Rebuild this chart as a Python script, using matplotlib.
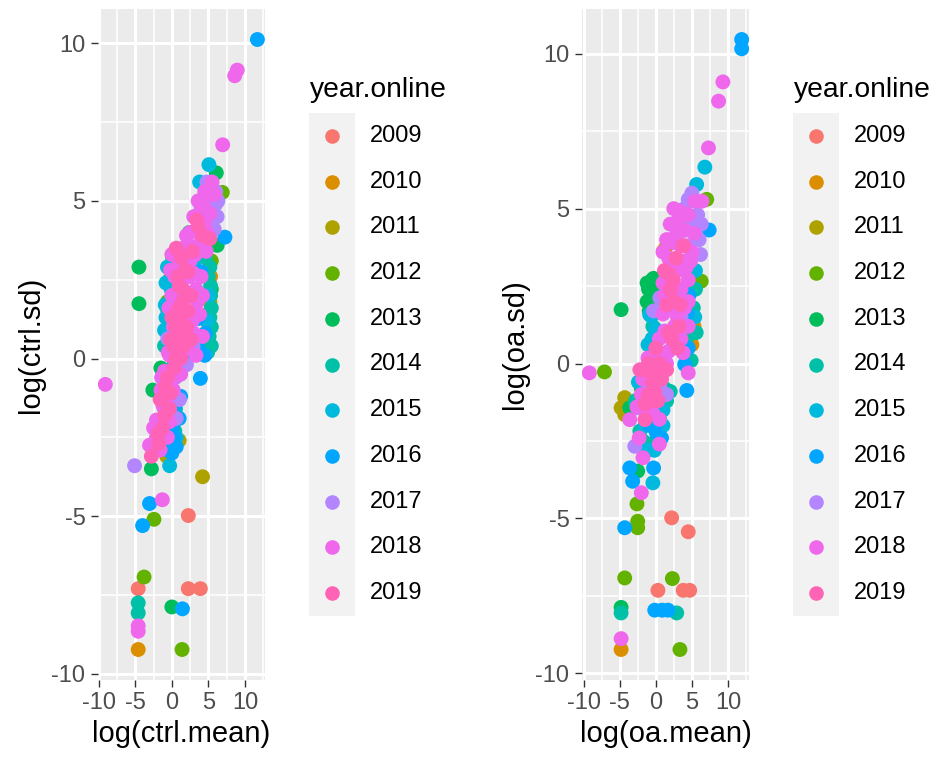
import matplotlib
matplotlib.use("Agg")
import matplotlib.pyplot as plt
from matplotlib.patches import Rectangle

plt.rcParams['font.family'] = ['Liberation Sans', 'DejaVu Sans']
plt.rcParams['axes.unicode_minus'] = False

years = [2009, 2010, 2011, 2012, 2013, 2014, 2015, 2016, 2017, 2018, 2019]
year_colors = ["#F8766D", "#DB8E00", "#AEA200", "#64B200", "#00BD5C", "#00C1A7",
               "#00BADE", "#00A6FF", "#B385FF", "#EF67EB", "#FF63B6"]

# ---- control group: log(mean) / log(sd) by year ----
ctrl_mean_2009 = [2.25, -4.6, 2.25, 3.9, 4.9, 5.0]
ctrl_sd_2009 = [-4.98, -7.3, -7.3, -7.3, 0.63, 1.1]
ctrl_mean_2010 = [-4.6, 4.8, 5.3]
ctrl_sd_2010 = [-9.23, 1.4, 2.6]
ctrl_mean_2011 = [-0.7, 4.2, 5.2, 1.0]
ctrl_sd_2011 = [-3.1, -3.75, 1.8, -2.6]
ctrl_mean_2012 = [-2.45, -3.8, 1.4, 6.9, 5.4, -0.6]
ctrl_sd_2012 = [-5.1, -6.93, -9.23, 5.27, 3.1, 1.8]
ctrl_mean_2013 = [-4.5, -4.5, 0.0, 6.08, 6.2, -2.8, -2.6, 2.4, -0.55, -0.3, 0.1, 5.4, -1.5, 0.0, 5.3]
ctrl_sd_2013 = [2.9, 1.74, -7.88, 5.89, 3.59, -3.5, -1.0, 4.0, 1.53, 2.5, 3.2, 2.2, -0.3, -2.0, 1.0]
ctrl_mean_2014 = [-4.6, -4.6, -0.3, 5.4, 5.4, 5.4, 5.3, 5.2, 4.9, -0.8, 0.5, 0.3, -0.5, 0.4, 1.0,
                  5.1, 5.2, 5.3, 5.0, 4.6, -1.0]
ctrl_sd_2014 = [-7.75, -8.07, -2.85, 0.4, 1.0, 1.6, 2.3, 2.9, 0.2, -1.0, -1.6, -0.2, 1.0, -2.3, 2.4,
                0.7, 1.3, 2.0, 2.6, 3.2, 0.4]
ctrl_mean_2015 = [5.07, 3.8, -0.3, -1.0, -0.8, -0.1, 0.4, 0.2, 1.0, 0.5, 3.0, -0.5, 1.0, -1.0, 0.6, 4.6,
                  -0.8, -0.6, 5.0, 4.8, -0.9, 0.0]
ctrl_sd_2015 = [6.15, 5.6, -3.4, 0.9, 1.3, 2.2, 3.0, 2.6, 2.1, 1.8, 3.0, -0.5, -0.2, -1.6, -2.5, 5.3,
                2.4, 2.9, 2.0, 1.2, 1.7, -1.4]
ctrl_mean_2016 = [11.7, 7.26, 3.9, -3.05, -4.0, 1.45, 0.1, -0.3, 4.0, 3.6, 3.6, 1.0, 0.6, 4.5, 2.0, 1.2,
                  -1.4, 0.0, 0.4, -0.6, 0.3, 4.6, -0.9]
ctrl_sd_2016 = [10.12, 3.85, -0.63, -4.6, -5.3, -7.94, -2.2, -2.6, 2.75, 1.27, 0.32, -1.9, -2.8, 0.1, 0.0, -1.2,
                -2.2, -3.0, -1.5, -2.9, -2.5, 0.8, -1.2]
ctrl_mean_2017 = [-5.1, 1.05, 5.2, 4.6, 5.6, 6.2, 5.0, 6.3, 4.0, 5.8, -0.55, 2.9, 0.5, -0.8, 6.0, 4.4, 2.0,
                  5.0, 5.5, 6.0, 4.8, 5.3, -0.3, 0.6]
ctrl_sd_2017 = [-3.4, -1.3, 5.5, 5.1, 4.8, 4.5, 4.3, 5.0, 4.8, 4.1, 0.63, 0.38, -0.6, -1.8, 5.3, 4.5, -0.2,
                4.9, 5.2, 4.9, 5.6, 4.5, -1.4, -1.9]
ctrl_mean_2018 = [-9.1, 8.95, 8.6, 6.95, -1.3, -4.6, -4.6, 5.8, 3.0, 3.8, 4.5, 5.2, 1.5, 2.3, 3.2, 4.0,
                  4.7, 0.0, 1.0, 2.0, 3.3, 4.2, 0.4, 2.4, 1.8, 0.6, 3.5, 2.8, -0.3, 0.1, -0.7, -2.1,
                  -2.1, -3.05, -1.0, 0.8, 3.3, -1.5, 0.2, 4.3,
                  0.0, -0.4, 0.2, 1.2, 2.2, 3.0, 3.8, 4.2, 4.0, 3.0, 2.5, -0.2, -0.5, -1.4, -1.2,
                  -0.3, -2.5, -1.6, -0.6, 2.5, 3.5, 4.8, 3.6, 4.5, 5.5, 2.0, 1.2]
ctrl_sd_2018 = [-0.82, 9.15, 8.97, 6.78, -4.48, -8.48, -8.65, 5.2, 4.5, 4.6, 4.3, 4.6, 3.5, 3.6, 3.3, 3.7,
                3.4, 3.3, 3.0, 3.4, 2.2, 0.7, 2.6, 2.6, 2.0, 1.4, 1.8, 1.2, 0.1, -0.63, -1.37, -1.95,
                -2.5, -2.75, -0.4, 0.5, 0.1, -1.0, -1.0, 4.9,
                2.0, 1.6, 1.0, 0.2, 0.3, 0.8, 1.4, 2.0, 2.6, 2.7, 3.1, 2.8, 0.2, -0.6, -1.5,
                -2.0, -2.2, -2.9, -2.5, 4.0, 4.1, 4.0, 5.0, 5.3, 5.6, 3.9, -0.5]
ctrl_mean_2019 = [4.2, 5.2, 2.2, 1.5, 1.2, 0.8, 1.6, 2.2, 0.5, 2.0, 1.0, 1.8, -1.3, -2.8, -1.6, -0.6,
                  -0.3, 0.3, 2.6, 0.6, -1.8, 3.6, 1.2, -0.2,
                  0.5, 1.0, 1.5, 0.8, 1.3, 2.6, 1.9, 0.2, -0.9, -0.2, -1.9, -1.0, 2.8, 3.4, 0.0]
ctrl_sd_2019 = [3.9, 3.8, 2.75, 1.8, 1.2, 0.8, 0.4, 1.5, 0.0, 1.0, 2.3, 2.8, -2.2, -3.1, -1.3, -0.6,
                -1.6, -0.3, 0.6, 3.5, -2.7, 4.2, 0.0, 0.6,
                1.0, 1.6, 2.2, 2.6, 3.2, 2.0, 0.7, 0.4, -0.9, -1.1, -2.4, -1.8, 3.4, 4.4, 1.3]

# ---- open-access group: log(mean) / log(sd) by year ----
oa_mean_2009 = [2.2, 4.5, 0.3, 3.8, 4.7]
oa_sd_2009 = [-4.98, -5.43, -7.32, -7.32, -7.32]
oa_mean_2010 = [-4.8, 1.06, 5.0, 5.3, 1.5]
oa_sd_2010 = [-9.23, 3.63, 0.61, 1.2, 3.8]
oa_mean_2011 = [-4.3, -4.8, -4.3, -4.0]
oa_sd_2011 = [-1.1, -1.43, -1.65, -1.3]
oa_mean_2012 = [-7.1, -2.6, -2.5, -2.5, -4.3, 2.3, 3.35, 5.8, 6.3, 7.06]
oa_sd_2012 = [-0.27, -4.53, -5.09, -5.3, -6.92, -6.94, -9.23, 2.7, 2.66, 5.3]
oa_mean_2013 = [-4.8, -1.0, -0.5, 0.2, -1.2, -0.6, 0.3, -3.6, -2.5, -4.8, -1.5, -0.3, -1.2, -0.9, -2.0]
oa_sd_2013 = [1.74, 2.4, 2.7, 2.5, 2.0, 1.9, 2.2, -1.43, -3.47, -7.87, -0.3, 2.75, 2.6, 1.7, -0.8]
oa_mean_2014 = [-4.8, 2.9, 1.5, 0.55, -2.2, -1.77, -0.84, 4.3, 5.2, 5.5, 5.0, -0.4, 2.0,
                1.2, 0.2, 5.6, 4.9, -2.8]
oa_sd_2014 = [-8.05, -8.05, -1.21, -1.81, -2.18, -2.5, -2.6, 0.83, 1.8, 2.4, 3.0, 1.2, -0.9,
              -0.8, -1.8, 1.0, 0.1, -1.2]
oa_mean_2015 = [6.8, 5.66, -0.84, -0.6, -0.4, -0.5, 0.0, -1.5, -1.0, 1.0, -2.4, 4.8, -1.07,
                -0.4, -0.8, 1.0, -0.2, -1.2, 5.4, 5.5]
oa_sd_2015 = [6.34, 5.78, 1.58, 1.53, -3.85, 0.8, 1.1, -2.0, -1.5, -1.5, -0.6, 4.5, 0.61,
              0.2, -1.0, -2.0, -2.8, -2.8, 1.5, 3.0]
oa_mean_2016 = [11.9, 11.9, 7.4, 3.6, 4.0, 4.3, 0.1, -3.6, -0.3, -3.2, -4.3, -0.14, 0.9, 1.7, 4.3, 0.5,
                0.8, -0.8, 4.5, 4.6]
oa_sd_2016 = [10.46, 10.16, 4.31, 2.4, -0.03, -0.87, -2.24, -3.37, -3.37, -3.8, -5.3, -7.96, -7.96, -7.96, 1.6, -1.0,
              -2.4, -2.0, 0.5, 2.2]
oa_mean_2017 = [5.0, 3.8, 4.5, 5.8, 6.3, 4.2, 5.5, 6.2, 0.56, -2.5, -2.9, 0.55, 3.5, -0.3,
                4.0, 5.5, 6.0, 2.5, -1.0, 1.2, 4.5, 1.5]
oa_sd_2017 = [5.5, 4.97, 5.3, 4.8, 4.5, 4.4, 4.2, 3.52, 2.12, -1.43, -2.67, -0.73, 1.5, 1.7,
              5.0, 4.6, 4.0, 2.0, -0.8, -0.2, 3.8, -1.0]
oa_mean_2018 = [-9.2, 9.3, 8.7, 7.3, 5.4, 6.4, 2.0, 3.0, 4.0, 1.5, 2.5, 3.5, 5.0, 2.0, 3.0, 4.2,
                1.5, 2.4, 3.5, 4.5, 1.2, 2.0, 3.0, 4.5, 1.25, 2.5, 3.8, -1.07, 0.5, -0.5, -2.0,
                -3.6, -1.77, -2.0, -4.8, 0.5, 4.5, 1.5,
                1.0, 2.0, 3.0, 4.0, 1.8, 3.8, 4.5, 1.0, 3.0, 4.0, 1.0, 2.6, 3.5, 0.5, 1.8, 0.0,
                -1.8, -1.2, -2.6, -0.4, -2.3, 0.5, 2.5, 3.5, 4.5, 5.3, 4.8]
oa_sd_2018 = [-0.3, 9.09, 8.47, 6.96, 5.24, 5.24, 4.5, 4.6, 4.3, 4.0, 3.9, 3.8, 3.6, 3.3, 3.0, 3.1,
              2.8, 2.7, 2.4, 2.0, 2.2, 1.8, 1.5, 1.2, 1.05, 0.6, 0.35, 0.18, 0.2, -0.3, -1.0,
              -1.81, -3.04, -4.17, -8.88, -1.8, -0.3, 0.0,
              3.6, 4.0, 4.2, 3.8, 3.4, 3.3, 2.7, 2.6, 2.2, 1.8, 1.6, 1.2, 0.8, 0.8, 0.4, -0.1,
              -0.5, -1.5, -1.4, -1.6, -2.4, -2.6, 5.0, 4.9, 4.8, 4.2, 3.3]
oa_mean_2019 = [1.5, -0.14, -0.6, -1.5, -1.0, 0.0, 2.4, 3.8, 1.8, 2.5, 0.8, 3.0, 1.2, -2.2, 0.0, -1.0,
                2.0, 1.5, 3.2, 2.2, 0.5, -0.5, -1.5, 0.3, -1.5, 1.8, 2.8, 3.4]
oa_sd_2019 = [-0.2, -0.89, -1.21, -1.81, 0.0, -0.3, 2.7, 3.8, 1.0, 2.0, -0.5, 0.5, 3.0, -0.2, 0.5, -1.0,
              2.4, 1.9, 1.2, 0.8, 0.0, -0.6, -0.2, -1.2, -1.3, 2.9, 3.4, 1.9]

ctrl_groups = [
    (ctrl_mean_2009, ctrl_sd_2009), (ctrl_mean_2010, ctrl_sd_2010), (ctrl_mean_2011, ctrl_sd_2011),
    (ctrl_mean_2012, ctrl_sd_2012), (ctrl_mean_2013, ctrl_sd_2013), (ctrl_mean_2014, ctrl_sd_2014),
    (ctrl_mean_2015, ctrl_sd_2015), (ctrl_mean_2016, ctrl_sd_2016), (ctrl_mean_2017, ctrl_sd_2017),
    (ctrl_mean_2018, ctrl_sd_2018), (ctrl_mean_2019, ctrl_sd_2019),
]
oa_groups = [
    (oa_mean_2009, oa_sd_2009), (oa_mean_2010, oa_sd_2010), (oa_mean_2011, oa_sd_2011),
    (oa_mean_2012, oa_sd_2012), (oa_mean_2013, oa_sd_2013), (oa_mean_2014, oa_sd_2014),
    (oa_mean_2015, oa_sd_2015), (oa_mean_2016, oa_sd_2016), (oa_mean_2017, oa_sd_2017),
    (oa_mean_2018, oa_sd_2018), (oa_mean_2019, oa_sd_2019),
]

W, H = 937, 759
fig = plt.figure(figsize=(W / 100, H / 100), dpi=100)
fig.patch.set_facecolor("white")


def px_axes(left, top, right, bottom, **kw):
    return fig.add_axes([left / W, 1 - bottom / H, (right - left) / W, (bottom - top) / H], **kw)


def padded(vals):
    lo, hi = min(vals), max(vals)
    pad = (hi - lo) * 0.05
    return lo - pad, hi + pad


def gg_panel(ax, groups, xlabel, ylabel):
    ax.set_facecolor("#EBEBEB")
    for sp in ax.spines.values():
        sp.set_visible(False)
    for (xs, ys), col in zip(groups, year_colors):
        ax.scatter(xs, ys, s=115, color=col, edgecolors="none", zorder=3)
    all_x = [v for xs, _ in groups for v in xs]
    all_y = [v for _, ys in groups for v in ys]
    ax.set_xlim(*padded(all_x))
    ax.set_ylim(*padded(all_y))
    ax.set_xticks([-10, -5, 0, 5, 10])
    ax.set_yticks([-10, -5, 0, 5, 10])
    ax.set_xticks([-7.5, -2.5, 2.5, 7.5, 12.5], minor=True)
    ax.set_yticks([-7.5, -2.5, 2.5, 7.5], minor=True)
    ax.grid(which="major", color="white", linewidth=2.2, zorder=0)
    ax.grid(which="minor", color="white", linewidth=1.1, zorder=0)
    ax.set_axisbelow(True)
    ax.tick_params(which="major", length=5.3, width=1.0, color="#333333",
                   labelcolor="#4D4D4D", labelsize=17, pad=3.5)
    ax.tick_params(which="minor", length=0)
    ax.set_xlabel(xlabel, fontsize=21, color="black", labelpad=4)
    ax.set_ylabel(ylabel, fontsize=21, color="black", labelpad=5)


ax1 = px_axes(97.7, 9, 265, 680)
gg_panel(ax1, ctrl_groups, "log(ctrl.mean)", "log(ctrl.sd)")
ax2 = px_axes(581.7, 9, 749.3, 680)
gg_panel(ax2, oa_groups, "log(oa.mean)", "log(oa.sd)")

# legends, laid out in pixel coordinates
lg = px_axes(0, 0, W, H)
lg.set_xlim(0, W)
lg.set_ylim(H, 0)
lg.axis("off")
key_h = 45.7
for x0 in (309, 793):
    lg.text(x0 + 1, 90, "year.online", fontsize=20.3, color="black", ha="left", va="center")
    lg.add_patch(Rectangle((x0, 136 - key_h / 2), 46.5, key_h * len(years),
                           facecolor="#F2F2F2", edgecolor="none"))
    for i, (yr, col) in enumerate(zip(years, year_colors)):
        cy = 136 + i * key_h
        lg.plot([x0 + 23.3], [cy], marker="o", markersize=10.5, color=col,
                markeredgewidth=0, linestyle="none")
        lg.text(x0 + 61, cy, str(yr), fontsize=17, color="black", ha="left", va="center")

fig.savefig("out.png", dpi=100)
